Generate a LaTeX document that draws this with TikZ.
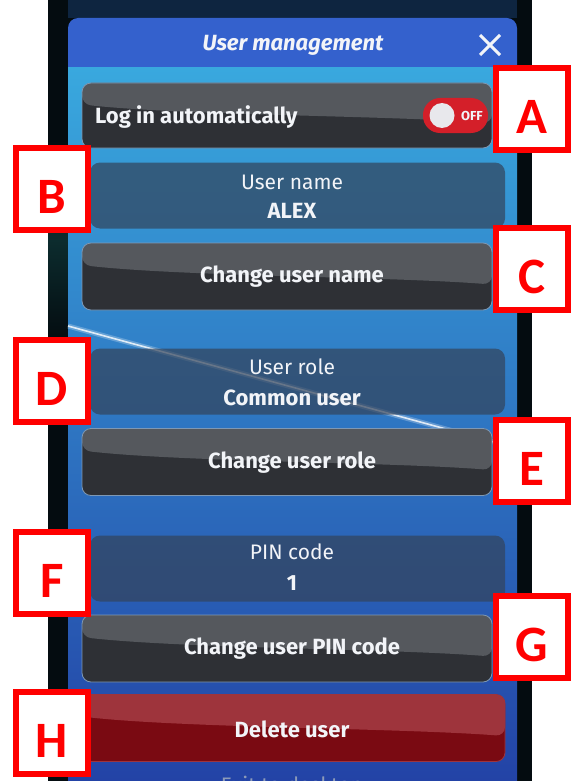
\documentclass[tikz,border=0pt]{standalone}
\usepackage{fontspec}
\setmainfont{Fira Sans}
\newfontfamily\tagfont{Carlito}
\usetikzlibrary{calc}

\definecolor{framedark}{HTML}{040C10}
\definecolor{topnavy}{HTML}{0E2540}
\definecolor{headerblue}{HTML}{3461CD}
\definecolor{bgtop}{HTML}{39A8DE}
\definecolor{bgmid}{HTML}{2F78C8}
\definecolor{bgbot}{HTML}{2343A6}
\definecolor{btndark}{HTML}{2E3035}
\definecolor{btnlight}{HTML}{55585D}
\definecolor{btnedge}{HTML}{7E98B4}
\definecolor{infofill}{HTML}{33435A}
\definecolor{deldark}{HTML}{7A0A12}
\definecolor{dellight}{HTML}{9E343C}
\definecolor{togglered}{HTML}{D41F29}
\definecolor{knob}{HTML}{E8E8EC}
\definecolor{tagred}{HTML}{FF0000}
\definecolor{uitext}{HTML}{F2F4F8}

\tikzset{
  sheen/.style={path picture={
    \fill[#1] (path picture bounding box.north west)
      -- ($(path picture bounding box.north west)!0.33!(path picture bounding box.south west)$)
      .. controls ($(path picture bounding box.west)!0.5!(path picture bounding box.center)$)
      and ($(path picture bounding box.center)!0.5!(path picture bounding box.east)$)
      .. ($(path picture bounding box.north east)!0.62!(path picture bounding box.south east)$)
      -- (path picture bounding box.north east) -- cycle;}},
  uibtn/.style={rectangle, rounded corners=9pt, minimum width=410pt, minimum height=67pt,
    fill=btndark, draw=btnedge, line width=0.8pt, sheen=btnlight, inner sep=0pt},
  delbtn/.style={uibtn, minimum width=423pt, fill=deldark, draw=dellight, sheen=dellight},
  infobox/.style={rectangle, rounded corners=10pt, minimum width=415pt, minimum height=66pt,
    fill=infofill, fill opacity=0.7, inner sep=0pt},
  boldtxt/.style={text=uitext, font=\bfseries\fontsize{22}{24}\selectfont, inner sep=0pt},
  plaintxt/.style={text=uitext, font=\fontsize{21}{24}\selectfont, inner sep=0pt},
  tagbox/.style={rectangle, draw=tagred, line width=6pt, fill=white,
    minimum width=72pt, minimum height=82pt, inner sep=0pt},
  tagtxt/.style={text=tagred, font=\tagfont\bfseries\fontsize{51}{51}\selectfont, inner sep=0pt},
}

\begin{document}
\begin{tikzpicture}[x=1pt, y=-1pt]
\useasboundingbox (0,0) rectangle (574,781);
\fill[white] (0,0) rectangle (574,781);

% device frame and screen
\fill[framedark] (48,0) rectangle (532,781);
\shade[top color=framedark, bottom color=framedark, middle color={rgb,255:red,12;green,44;blue,46}]
  (48,140) rectangle (68,340);
\fill[topnavy] (68,0) rectangle (517,18);
\fill[headerblue, rounded corners=10pt] (68,18) rectangle (517,90);
\shade[top color=bgtop, middle color=bgmid, bottom color=bgbot] (68,68) rectangle (517,781);

% light streak across the wallpaper
\draw[white, opacity=0.25, line width=5pt] (68,326) -- (512,447);
\draw[white, opacity=0.8, line width=1.6pt] (68,326) -- (512,447);

% title bar
\node[text=uitext, font=\bfseries\itshape\fontsize{22}{24}\selectfont, inner sep=0pt]
  (title) at (293,45) {User management};
\coordinate (closex) at (490,45);
\draw[uitext, line width=3pt] ($(closex)+(-10,-10)$) -- ($(closex)+(10,10)$)
  ($(closex)+(-10,10)$) -- ($(closex)+(10,-10)$);

% auto login row
\node[uibtn, minimum height=65pt] (autorow) at (287,115.5) {};
\node[boldtxt, anchor=west] (autotxt) at (95,117) {Log in automatically};
\node[rectangle, rounded corners=17pt, minimum width=65pt, minimum height=35pt,
  fill=togglered, inner sep=0pt] (toggle) at (455.5,115.5) {};
\node[circle, fill=knob, minimum size=25pt, inner sep=0pt] (knob) at (442,115.5) {};
\node[text=uitext, font=\bfseries\fontsize{13}{14}\selectfont, inner sep=0pt] (offtxt) at (472,115.5) {OFF};

% user name
\node[infobox] (namebox) at (297.5,195.5) {};
\node[plaintxt] (namelbl) at (292,182) {User name};
\node[boldtxt] (nameval) at (292,211) {ALEX};
\node[uibtn] (namebtn) at (287,276.5) {};
\node[boldtxt] (namebtntxt) at (292,277) {Change user name};

% user role
\node[infobox] (rolebox) at (297.5,381.5) {};
\node[plaintxt] (rolelbl) at (292,367) {User role};
\node[boldtxt] (roleval) at (292,398) {Common user};
\node[uibtn] (rolebtn) at (287,462) {};
\node[boldtxt] (rolebtntxt) at (292,463) {Change user role};

% PIN code
\node[infobox] (pinbox) at (297.5,568.5) {};
\node[plaintxt] (pinlbl) at (292,552) {PIN code};
\node[boldtxt] (pinval) at (292,583) {1};
\node[uibtn] (pinbtn) at (287,648.5) {};
\node[boldtxt] (pinbtntxt) at (292,649) {Change user PIN code};

% delete
\node[delbtn] (delbtn) at (293.5,728) {};
\node[boldtxt] (deltxt) at (292,729) {Delete user};
\node[text={rgb,255:red,140;green,155;blue,185}, font=\fontsize{21}{24}\selectfont, inner sep=0pt]
  (exittxt) at (292,787) {Exit to desktop};

% callout tags
\foreach \nm/\cx/\cy in {A/532/109, B/52/189, C/532/269, D/52/381,
                         E/532/461, F/52/573, G/532/637, H/52/733} {
  \node[tagbox] (tag\nm) at (\cx,\cy) {};
  \node[tagtxt] (tagtxt\nm) at ($(tag\nm.center)+(0,7.5)$) {\nm};
}
\end{tikzpicture}
\end{document}
